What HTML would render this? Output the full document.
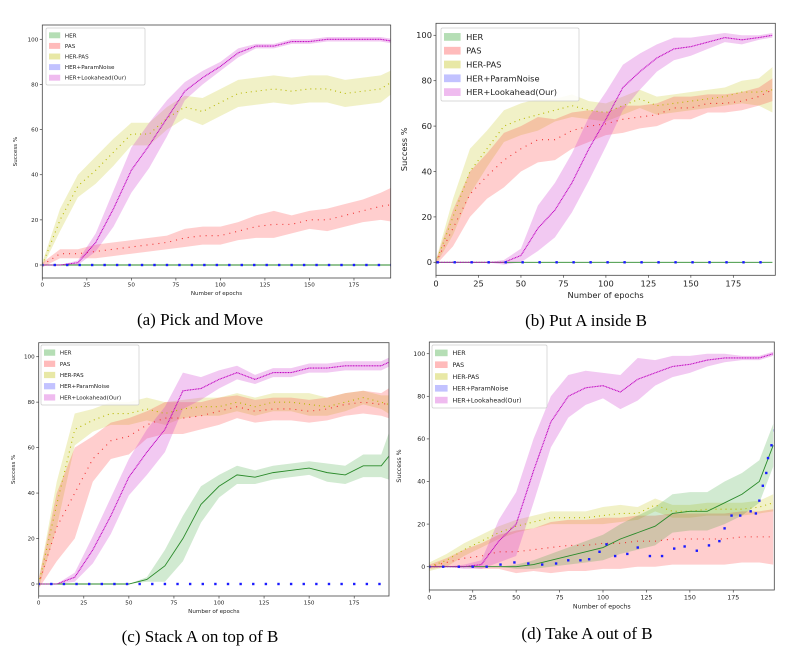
<!DOCTYPE html>
<html><head><meta charset="utf-8"><style>
body{margin:0;background:#fff;width:798px;height:657px;overflow:hidden}
svg{position:absolute;left:0;top:0}
.cap{position:absolute;font-family:"Liberation Serif",serif;font-size:17px;color:#000;white-space:nowrap;transform:translateX(-50%)}
</style></head><body>
<svg id="fig" width="798" height="657"></svg>
<div class="cap" style="left:200px;top:310px">(a) Pick and Move</div>
<div class="cap" style="left:586px;top:311px">(b) Put A inside B</div>
<div class="cap" style="left:200px;top:627px">(c) Stack A on top of B</div>
<div class="cap" style="left:587px;top:624px">(d) Take A out of B</div>
<script>
const epochs=[0,10,20,30,40,50,60,70,80,90,100,110,120,130,140,150,160,170,180,190,198];
const xTicks=[0,25,50,75,100,125,150,175];
const yTicks=[0,20,40,60,80,100];
const seriesNames=["HER","PAS","HER-PAS","HER+ParamNoise","HER+Lookahead(Our)"];
// Panel a
const aHER=[0,0,0,0,0,0,0,0,0,0,0,0,0,0,0,0,0,0,0,0,0];
const aHERb=[0,0,0,0,0,0,0,0,0,0,0,0,0,0,0,0,0,0,0,0,0];
const aPAS=[0,5,5,6,7,8,9,10,12,13,13,15,17,18,18,20,20,22,24,26,27];
const aPASb=[1,2,2,3,3,3,3,3,4,4,4,4,5,6,4,4,5,5,5,6,8];
const aHP=[0,20,35,42,50,58,58,65,70,68,72,76,77,78,77,78,78,76,77,78,82];
const aHPb=[1,5,5,6,6,5,5,5,5,6,6,6,6,6,6,6,6,6,6,6,5];
const aLA=[0,0,1,10,25,42,53,65,77,83,88,94,97,97,99,99,100,100,100,100,99];
const aLAb=[0,0,1,4,8,10,10,8,4,3,2,2,1,1,1,1,1,1,1,1,1];
const aPNx=[0,7,14,21,28,35,42,49,56,63,70,77,84,91,98,105,112,119,126,133,140,147,154,161,168,175,182,189,196];
const aPNy=aPNx.map(()=>0);
// Panel b
const bHER=[0,0,0,0,0,0,0,0,0,0,0,0,0,0,0,0,0,0,0,0,0];
const bHERb=[0,0,0,0,0,0,0,0,0,0,0,0,0,0,0,0,0,0,0,0,0];
const bPAS=[0,15,30,38,45,50,54,54,58,60,61,63,64,65,68,68,70,70,71,73,76];
const bPASb=[1,8,10,10,12,10,10,9,8,7,5,6,5,5,5,5,4,4,4,4,5];
const bHP=[0,20,40,50,60,63,65,67,69,67,66,69,72,69,70,71,72,73,75,75,76];
const bHPb=[1,8,10,8,7,7,7,5,5,4,4,4,4,4,4,4,4,4,5,6,10];
const bLA=[0,0,0,0,0,3,15,23,35,50,63,77,84,90,94,95,97,99,98,99,100];
const bLAb=[0,0,0,0,1,3,10,12,13,14,12,10,8,6,5,4,3,2,2,1,1];
const bPNx=[1,11,21,31,41,51,61,71,81,91,101,111,121,131,141,151,161,171,181,191];
const bPNy=bPNx.map(()=>0);
// Panel c
const cHER=[0,0,0,0,0,0,2,8,20,35,43,48,47,49,50,51,49,48,52,52,60];
const cHERb=[0,0,0,0,0,0,1,7,10,8,5,4,3,3,3,3,4,4,5,5,15];
const cPAS=[0,25,40,55,63,65,70,73,73,74,76,78,76,77,77,76,77,79,80,79,80];
const cPASb=[2,15,20,10,8,8,6,7,7,6,6,5,5,5,5,5,5,5,5,5,8];
const cHP=[0,35,68,72,75,75,77,75,77,78,78,80,78,80,80,79,78,80,82,80,78];
const cHPb=[2,10,7,5,5,5,5,5,4,4,4,4,4,4,4,5,4,4,3,3,5];
const cLA=[0,0,3,15,30,47,58,68,85,86,90,93,90,93,93,95,95,96,96,96,99];
const cLAb=[0,0,2,6,8,8,10,10,8,5,4,3,2,2,2,2,2,2,2,2,2];
const cPNx=[0,7,14,21,28,35,42,49,56,63,70,77,84,91,98,105,112,119,126,133,140,147,154,161,168,175,182,189,196];
const cPNy=cPNx.map(()=>0);
// Panel d
const dHER=[0,0,0,0,0,0,1,3,5,7,9,13,16,19,25,26,26,30,34,40,57];
const dHERb=[0,0,0,0,0,1,2,3,4,5,6,7,8,9,9,9,9,10,10,10,10];
const dPAS=[0,2,4,5,7,7,8,9,10,10,11,11,12,12,13,13,13,13,14,14,14];
const dPASb=[1,2,4,6,8,10,10,12,12,12,12,12,12,12,12,12,12,12,12,12,13];
const dHP=[0,3,8,12,16,19,21,23,23,23,24,25,25,29,26,26,27,27,27,28,30];
const dHPb=[2,3,3,3,3,3,3,3,3,3,4,4,3,3,3,3,3,3,3,3,4];
const dLA=[0,0,0,1,12,20,45,68,80,84,85,82,88,91,94,95,97,98,98,98,100];
const dLAb=[0,0,1,2,10,15,15,12,10,8,6,8,10,6,5,4,3,2,1,1,1];
const dPNx=[0,8,17,25,33,41,49,57,65,73,80,87,92,98,102,107,114,120,127,134,141,147,154,161,167,170,174,179,185,188,190,192,194,195,197,199];
const dPNy=[0,0,0,0,0,1,2,1.5,1,1.5,3,3,3.5,7,10.5,5,6,9,5,5,8.5,9.5,7.5,10,12,18,24,24,26,25,31,38,44,51,57,64];

const NS="http://www.w3.org/2000/svg";
const svg=document.getElementById('fig');
function mk(tag,attrs,parent){const e=document.createElementNS(NS,tag);for(const k in attrs)e.setAttribute(k,attrs[k]);(parent||svg).appendChild(e);return e;}
const COLORS={her:["rgba(44,160,44,0.22)","#2a8a2a"],pas:["rgba(255,60,60,0.25)","#f03030"],hp:["rgba(190,190,0,0.22)","#b8b800"],pn:["rgba(80,80,255,0.25)","#1a1aff"],la:["rgba(210,60,210,0.28)","#c000c0"]};

function panel(id,P,d){
  const g=mk('g',{});
  
  
  const X=v=>P.x0+v*P.sx, Y=v=>P.y0-v*(P.y0-P.y100)/100;
  const clipId='clip'+id;
  const cp=mk('clipPath',{id:clipId},g);mk('rect',{x:P.l,y:P.t,width:P.r-P.l,height:P.b-P.t},cp);
  const plot=mk('g',{'clip-path':'url(#'+clipId+')'},g);
  function band(key,mean,bw,nm){
    const up=epochs.map((e,i)=>X(e)+','+Y(mean[i]+bw[i]));
    const dn=epochs.map((e,i)=>X(e)+','+Y(mean[i]-bw[i])).reverse();
    const p=mk('polygon',{points:up.concat(dn).join(' '),fill:COLORS[key][0],stroke:'none'},plot);
    
    
  }
  function line(key,mean,dash,nm){
    const p=mk('polyline',{points:epochs.map((e,i)=>X(e)+','+Y(mean[i])).join(' '),fill:'none',stroke:COLORS[key][1],'stroke-width':dash?1.1:0.9,'stroke-dasharray':dash||'none'},plot);
    
    
  }
  band('hp',d.hp,d.hpb,'her-pas');band('pas',d.pas,d.pasb,'pas');band('her',d.her,d.herb,'her');band('la',d.la,d.lab,'lookahead');
  line('hp',d.hp,'1 4','her-pas');line('pas',d.pas,'1 5','pas');line('her',d.her,null,'her');line('la',d.la,'1 0.6','lookahead');
  d.pnx.forEach((e,i)=>{const r=mk('rect',{x:X(e)-1.2,y:Y(d.pny[i])-1.2,width:2.4,height:2.4,fill:'#1a1aff'},plot);
    
    });
  const ax=mk('rect',{x:P.l,y:P.t,width:P.r-P.l,height:P.b-P.t,fill:'none',stroke:'#444','stroke-width':0.8},g);
  
  
  const fs=P.fs;
  xTicks.forEach(t=>{const x=X(t);mk('line',{x1:x,x2:x,y1:P.b,y2:P.b+2.5,stroke:'#444','stroke-width':0.7},g);
    const tx=mk('text',{x:x,y:P.b+3+fs,'font-size':fs,'text-anchor':'middle','font-family':'DejaVu Sans, sans-serif',fill:'#222'},g);tx.textContent=t;
    
    });
  yTicks.forEach(t=>{const y=Y(t);mk('line',{x1:P.l-2.5,x2:P.l,y1:y,y2:y,stroke:'#444','stroke-width':0.7},g);
    const tx=mk('text',{x:P.l-4,y:y+fs*0.35,'font-size':fs,'text-anchor':'end','font-family':'DejaVu Sans, sans-serif',fill:'#222'},g);tx.textContent=t;
    
    });
  const xl=mk('text',{x:(P.l+P.r)/2,y:P.b+6+2*fs,'font-size':fs,'text-anchor':'middle','font-family':'DejaVu Sans, sans-serif',fill:'#222'},g);xl.textContent='Number of epochs';
  
  
  const yx=P.ylx,yy=(P.t+P.b)/2;
  const yl=mk('text',{x:yx,y:yy,'font-size':fs,'text-anchor':'middle','font-family':'DejaVu Sans, sans-serif',fill:'#222',transform:'rotate(-90 '+yx+' '+yy+')'},g);yl.textContent='Success %';
  
  
  // legend
  const L=P.leg;
  const lg=mk('g',{},g);
  
  
  mk('rect',{x:L.x,y:L.y,width:L.w,height:L.h,fill:'#fff','fill-opacity':0.85,stroke:'#ccc','stroke-width':0.7,rx:1.5},lg);
  const keys=['her','pas','hp','pn','la'];
  const rowH=(L.h-4)/5;
  keys.forEach((k,i)=>{const cy=L.y+2+rowH*(i+0.5);
    mk('rect',{x:L.x+3,y:cy-rowH*0.28,width:fs*2,height:rowH*0.56,fill:COLORS[k][0].replace(/0\.2\d?\)/,'0.35)')},lg);
    const t=mk('text',{x:L.x+6+fs*2.3,y:cy+fs*0.36,'font-size':fs,'font-family':'DejaVu Sans, sans-serif',fill:'#222'},lg);t.textContent=seriesNames[i];
    
    });
}
panel('a',{l:42.3,r:390.7,t:25,b:278,x0:42.3,sx:1.781,y0:265,y100:39.3,fs:5.6,ylx:17,leg:{x:46,y:28,w:99,h:57}},
  {her:aHER,herb:aHERb,pas:aPAS,pasb:aPASb,hp:aHP,hpb:aHPb,la:aLA,lab:aLAb,pnx:aPNx,pny:aPNy});
panel('b',{l:436,r:775.3,t:23.3,b:275.3,x0:436,sx:1.699,y0:262.3,y100:35.3,fs:8.3,ylx:407,leg:{x:441,y:28,w:138,h:73}},
  {her:bHER,herb:bHERb,pas:bPAS,pasb:bPASb,hp:bHP,hpb:bHPb,la:bLA,lab:bLAb,pnx:bPNx,pny:bPNy});
panel('c',{l:38.7,r:389,t:342.7,b:596,x0:38.7,sx:1.803,y0:584,y100:356.7,fs:5.6,ylx:15,leg:{x:41,y:345,w:98,h:60}},
  {her:cHER,herb:cHERb,pas:cPAS,pasb:cPASb,hp:cHP,hpb:cHPb,la:cLA,lab:cLAb,pnx:cPNx,pny:cPNy});
panel('d',{l:429.3,r:774.3,t:342,b:590,x0:429.3,sx:1.737,y0:566.7,y100:353.7,fs:6.3,ylx:401,leg:{x:432,y:345,w:115,h:63}},
  {her:dHER,herb:dHERb,pas:dPAS,pasb:dPASb,hp:dHP,hpb:dHPb,la:dLA,lab:dLAb,pnx:dPNx,pny:dPNy});
</script>
</body></html>
